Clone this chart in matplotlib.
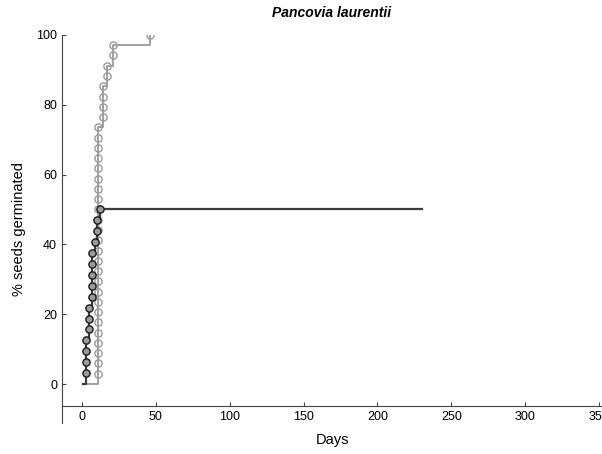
import numpy as np
import matplotlib
matplotlib.use('Agg')
import matplotlib.pyplot as plt

plt.rcParams['font.family'] = ['Liberation Sans', 'DejaVu Sans']

# dias de germinacion de cada semilla
dias_negro = [3, 3, 3, 3, 5, 5, 5, 7, 7, 7, 7, 7, 9, 10, 10, 12]
n_negro = 32
fin_negro = 230

dias_gris = [11] * 25 + [14, 14, 14, 14, 17, 17, 21, 21, 46]
n_gris = 34
fin_gris = 46

inicio = 1


def escalones(dias, n, fin):
    dias = np.array(dias)
    unicos = np.unique(dias)
    acum = [np.sum(dias <= d) / n * 100 for d in unicos]
    x = [inicio] + list(unicos) + [fin]
    y = [0] + acum + [acum[-1]]
    puntos_y = np.arange(1, len(dias) + 1) / n * 100
    return x, y, dias, puntos_y


fig = plt.figure(figsize=(6.02, 4.54), dpi=100)
ax = fig.add_axes([0.103, 0.068, 0.897, 0.855])

xg, yg, pxg, pyg = escalones(dias_gris, n_gris, fin_gris)
xn, yn, pxn, pyn = escalones(dias_negro, n_negro, fin_negro)

ax.plot(xg, yg, drawstyle='steps-post', color='#9a9a9a', lw=1.3)
ax.plot(pxg, pyg, 'o', ms=5.2, mfc='none', mec='#9a9a9a', mew=1.0)

ax.plot(xn, yn, drawstyle='steps-post', color='#3c3c3c', lw=1.6)
ax.plot(pxn, pyn, 'o', ms=5.2, mfc='#9a9a9a', mec='#1a1a1a', mew=1.0)

ax.set_xlim(-13.5, 352)
ax.set_ylim(-11.2, 100)
ax.set_xticks(np.arange(0, 351, 50))
ax.set_yticks(np.arange(0, 101, 20))

ax.spines['top'].set_visible(False)
ax.spines['right'].set_visible(False)
ax.spines['bottom'].set_position(('data', -6.3))
for s in ['left', 'bottom']:
    ax.spines[s].set_color('#444444')
ax.tick_params(direction='in', length=3, color='#444444', labelsize=9)

ax.set_xlabel('Days', fontsize=10.5, labelpad=7)
ax.set_ylabel('% seeds germinated', fontsize=10.5, labelpad=7)
ax.set_title('Pancovia laurentii', fontsize=10, fontweight='bold',
             style='italic', pad=13)

plt.savefig('out.png', dpi=100)
plt.close()
